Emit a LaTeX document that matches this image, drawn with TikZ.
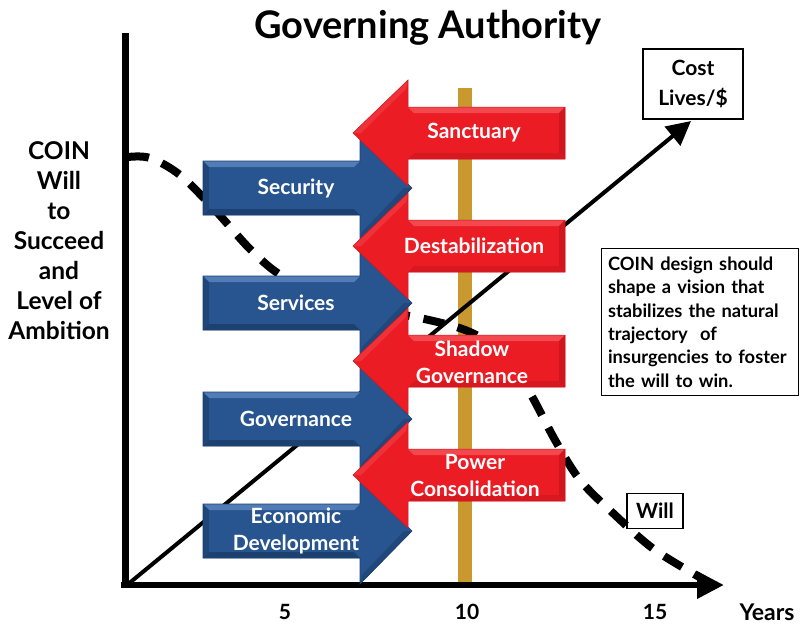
\documentclass[tikz,border=0pt]{standalone}
\usepackage{fontspec}
\setmainfont{Lato}
\usetikzlibrary{arrows.meta}
\definecolor{polec}{RGB}{201,152,47}
\definecolor{bluehi}{RGB}{82,124,182}
\definecolor{bluemid}{RGB}{40,85,143}
\definecolor{bluelo}{RGB}{28,64,112}
\definecolor{redhi}{RGB}{242,72,78}
\definecolor{redmid}{RGB}{236,28,36}
\definecolor{redlo}{RGB}{208,22,30}
\newcommand\bluearr[1]{%
  \fill[bluemid] (203,{#1-27}) -- (360,{#1-27}) -- (360,{#1-53}) -- (412,#1) -- (360,{#1+53}) -- (360,{#1+27}) -- (203,{#1+27}) -- cycle;
  \fill[bluehi] (203,{#1-27}) -- (360,{#1-27}) -- (354,{#1-21}) -- (209,{#1-21}) -- cycle;
  \fill[bluelo] (203,{#1+27}) -- (360,{#1+27}) -- (354,{#1+21}) -- (209,{#1+21}) -- cycle;
  \fill[bluelo!70!bluemid] (203,{#1-27}) -- (209,{#1-21}) -- (209,{#1+21}) -- (203,{#1+27}) -- cycle;
  \fill[bluelo!60!bluemid] (360,{#1+53}) -- (412,#1) -- (404,#1) -- (362,{#1+44}) -- cycle;
  \draw[bluelo, line width=0.6] (203,{#1-27}) -- (360,{#1-27}) -- (360,{#1-53}) -- (412,#1) -- (360,{#1+53}) -- (360,{#1+27}) -- (203,{#1+27}) -- cycle;}
\newcommand\redarr[1]{%
  \fill[redmid] (565,{#1-26}) -- (408,{#1-26}) -- (408,{#1-53}) -- (353,#1) -- (408,{#1+53}) -- (408,{#1+26}) -- (565,{#1+26}) -- cycle;
  \fill[redhi] (565,{#1-26}) -- (408,{#1-26}) -- (414,{#1-20}) -- (559,{#1-20}) -- cycle;
  \fill[redlo] (565,{#1-26}) -- (559,{#1-20}) -- (559,{#1+20}) -- (565,{#1+26}) -- cycle;
  \fill[redlo!70!redmid] (565,{#1+26}) -- (408,{#1+26}) -- (414,{#1+20}) -- (559,{#1+20}) -- cycle;
  \fill[redhi!50!redmid] (408,{#1-53}) -- (353,#1) -- (361,#1) -- (406,{#1-44}) -- cycle;
  \draw[redlo, line width=0.5] (565,{#1-26}) -- (408,{#1-26}) -- (408,{#1-53}) -- (353,#1) -- (408,{#1+53}) -- (408,{#1+26}) -- (565,{#1+26}) -- cycle;}
\tikzset{
  arrtext/.style={text=white, font=\bfseries\fontsize{21}{27}\selectfont, align=center, inner sep=0},
  lbl/.style={font=\bfseries\fontsize{24.5}{30}\selectfont, align=center, inner sep=0},
  boxlbl/.style={draw, line width=1.3, font=\bfseries\fontsize{21}{30}\selectfont, align=center},
  tick/.style={font=\bfseries\fontsize{21}{24}\selectfont},
}
\begin{document}
\begin{tikzpicture}[x=1pt,y=-1pt]
\useasboundingbox (0,0) rectangle (800,625);
% title
\node[font=\bfseries\fontsize{38}{40}\selectfont, inner sep=0] (title) at (428,28) {Governing Authority};
% pole
\fill[polec] (458,88) rectangle (472,585);
% axes
\coordinate (ytop) at (125,33);
\coordinate (ybot) at (125,588);
\coordinate (xl) at (121,585);
\coordinate (xr) at (724,585);
\draw[line width=7] (ytop) -- (ybot);
\draw[line width=6.5, -{Triangle[length=27,width=26]}] (xl) -- (xr);
% cost diagonal
\coordinate (o) at (127,585);
\coordinate (ctip) at (691,121);
\draw[line width=4, -{Triangle[length=24,width=24]}] (o) -- (ctip);
% will curve
\draw[line width=8, dash pattern=on 21pt off 14pt] plot[smooth, tension=0.55] coordinates {
 (128,157) (150,158) (180,175) (215,210) (250,249) (282,276) (335,302) (420,318) (470,332)
 (505,356) (530,393) (555,440) (580,480) (615,515) (655,550) (708,582)};
% blue arrows
\bluearr{188}
\bluearr{303}
\bluearr{419}
\bluearr{531}
% red arrows
\redarr{133}
\redarr{246}
\redarr{361}
\redarr{475}
% arrow texts
\node[arrtext] (sec) at (296,188) {Security};
\node[arrtext] (ser) at (296,303) {Services};
\node[arrtext] (gov) at (296,419) {Governance};
\node[arrtext] (eco) at (296,531) {Economic\\Development};
\node[arrtext] (san) at (474,133) {Sanctuary};
\node[arrtext] (des) at (474,246) {Destabilization};
\node[arrtext] (sha) at (472,362) {Shadow\\Governance};
\node[arrtext] (pow) at (475,475) {Power\\Consolidation};
% y label
\node[lbl] (ylab) at (59,241) {COIN\\Will\\to\\Succeed\\and\\Level of\\Ambition};
% ticks
\node[tick] (t5) at (285,612) {5};
\node[tick] (t10) at (467,612) {10};
\node[tick] (t15) at (655,612) {15};
\node[font=\bfseries\fontsize{23}{24}\selectfont] (years) at (767,612) {Years};
% boxes
\node[boxlbl, minimum width=100, minimum height=70, inner sep=0] (cost) at (693,84) {Cost\\Lives/\$};
\node[boxlbl, minimum width=56, minimum height=35, inner sep=0] (will) at (655,511) {Will};
\node[draw, line width=1.3, minimum width=197, minimum height=147, text width=184, inner sep=0,
  font=\bfseries\fontsize{18.3}{23.4}\selectfont, align=left] (note) at (700,322)
  {COIN design should\\shape a vision that\\stabilizes the natural\\trajectory\ \ of\\insurgencies to foster\\the will to win.};
\end{tikzpicture}
\end{document}
